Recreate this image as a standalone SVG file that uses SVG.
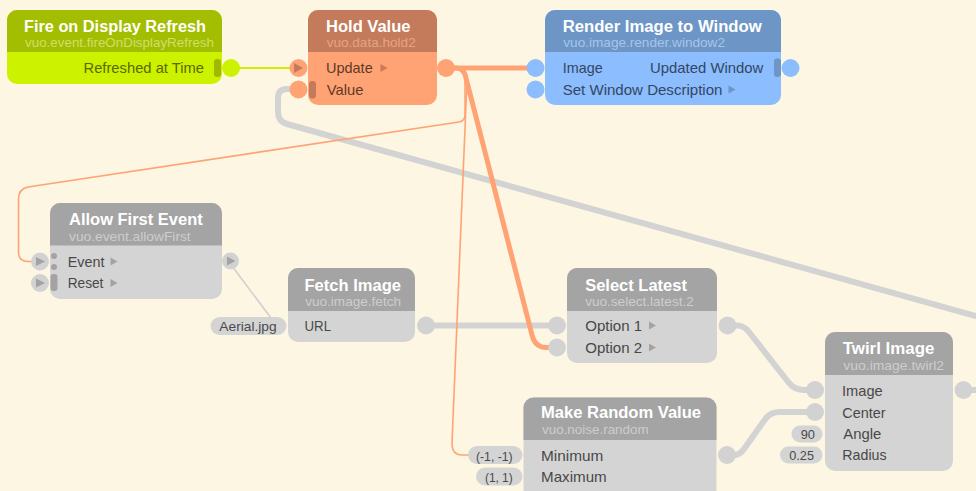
<svg xmlns="http://www.w3.org/2000/svg" width="976" height="491" viewBox="0 0 976 491">
<style>
text{font-family:"Liberation Sans",Arial,sans-serif}
.t{font-weight:bold;font-size:16px;fill:#fff}
.s{font-size:13px}
.l{font-size:15px}
.c{font-size:13.5px;fill:#4a4a4a;text-anchor:middle}
.gh{fill:#a4a4a4}.gb{fill:#d4d4d4}.gp{fill:#d2d2d2}.gs{fill:#cdcdcd}.gl{fill:#484848}.gt{fill:#a3a3a3}
.wg{fill:none;stroke:#d3d3d3;stroke-width:6;stroke-linecap:round;stroke-linejoin:round}
.wo{fill:none;stroke:#ffa374;stroke-width:5}
.wt{fill:none;stroke:#ffa374;stroke-width:1.6}
</style>
<rect width="976" height="491" fill="#fdf6e3"/>
<g id="connectors">
<path class="wg" d="M976,316 L287,124 Q278,121.5 278,112 L278,98 Q278,89 287,89 L298,89"/>
<path class="wg" d="M426,325.5 L557,325.5"/>
<path class="wg" d="M727,325.5 L737,325.5 Q744,325.5 749,332 L789,383 Q795,390 804,390 L815,390"/>
<path class="wg" d="M727,455 L734,455 Q740,455 744,449 L766,418 Q771,412 780,412 L815,412"/>
<path class="wg" d="M963,390 L980,390"/>
<path d="M232,266 L271,318" fill="none" stroke="#d0d0d0" stroke-width="1.6"/>
<path d="M231,68 L298,68" fill="none" stroke="#cdf000" stroke-width="2"/>
<path class="wt" d="M446,68 L455,68 Q465,68 465,78 L465,115 Q465,121 459,122 L28,187 Q18.5,189 18.5,199 L18.5,252 Q18.5,261.5 28,261.5 L40,261.5"/>
<path class="wt" d="M455,68 Q467,68 467,80 L452,443 Q452,455 462,455 L469,455"/>
<path class="wo" d="M446,68 L536,68"/>
<path class="wo" d="M446,68 L456,68 Q464,68 466,78 L532,335 Q535,347.5 546,347.5 L557,347.5"/>
</g>
<g id="fire">
<rect x="7" y="10" width="215" height="74" rx="10" fill="#cdf200"/>
<path d="M7,52 V20 A10,10 0 0 1 17,10 H212 A10,10 0 0 1 222,20 V52 Z" fill="#a3bd00"/>
<rect x="214" y="59" width="7" height="18" rx="3" fill="#9fb900"/>
<circle cx="231" cy="68" r="9" fill="#cdf200"/>
<text class="t" x="24" y="31.5" textLength="182" lengthAdjust="spacingAndGlyphs">Fire on Display Refresh</text>
<text class="s" x="25" y="46.5" fill="#cde06a" textLength="189" lengthAdjust="spacingAndGlyphs">vuo.event.fireOnDisplayRefresh</text>
<text class="l" x="83.5" y="73.3" fill="#5a6800" textLength="120.5" lengthAdjust="spacingAndGlyphs">Refreshed at Time</text>
</g>
<g id="hold">
<rect x="308" y="10" width="129" height="95" rx="10" fill="#ffa374"/>
<path d="M308,52 V20 A10,10 0 0 1 318,10 H427 A10,10 0 0 1 437,20 V52 Z" fill="#c47b5b"/>
<circle cx="298.5" cy="68" r="9" fill="#ffa374"/>
<polygon points="294,63 303,68 294,73" fill="#c47b5b"/>
<circle cx="298.5" cy="89.5" r="9" fill="#ffa374"/>
<rect x="309" y="81" width="7" height="17.5" rx="3" fill="#c47b5b"/>
<circle cx="446" cy="68" r="9" fill="#ffa374"/>
<text class="t" x="326" y="31.5" textLength="84.5" lengthAdjust="spacingAndGlyphs">Hold Value</text>
<text class="s" x="326.7" y="46.5" fill="#e4a384" textLength="89" lengthAdjust="spacingAndGlyphs">vuo.data.hold2</text>
<text class="l" x="326" y="73.3" fill="#5e3a28" textLength="46.7" lengthAdjust="spacingAndGlyphs">Update</text>
<polygon points="380.5,64 387.5,68 380.5,72" fill="#c97b5a"/>
<text class="l" x="326.7" y="95" fill="#5e3a28" textLength="36.7" lengthAdjust="spacingAndGlyphs">Value</text>
</g>
<g id="render">
<rect x="545" y="10" width="236" height="95" rx="10" fill="#8bbdff"/>
<path d="M545,52 V20 A10,10 0 0 1 555,10 H771 A10,10 0 0 1 781,20 V52 Z" fill="#6d96c6"/>
<circle cx="535.5" cy="68" r="9" fill="#8bbdff"/>
<circle cx="535.5" cy="89.5" r="9" fill="#8bbdff"/>
<rect x="774" y="58.5" width="7" height="18.5" rx="3" fill="#6d96c6"/>
<circle cx="790.5" cy="68" r="9" fill="#8bbdff"/>
<text class="t" x="562.7" y="31.5" textLength="199" lengthAdjust="spacingAndGlyphs">Render Image to Window</text>
<text class="s" x="563.3" y="46.5" fill="#a7c4ea" textLength="161.7" lengthAdjust="spacingAndGlyphs">vuo.image.render.window2</text>
<text class="l" x="562.7" y="73.3" fill="#34475f" textLength="40" lengthAdjust="spacingAndGlyphs">Image</text>
<text class="l" x="650" y="73.3" fill="#34475f" textLength="113.3" lengthAdjust="spacingAndGlyphs">Updated Window</text>
<text class="l" x="562.7" y="95" fill="#34475f" textLength="159.7" lengthAdjust="spacingAndGlyphs">Set Window Description</text>
<polygon points="728.5,85.5 735.5,89.5 728.5,93.5" fill="#6d96c6"/>
</g>
<g id="allowFirst">
<rect x="50" y="203" width="172" height="96" rx="10" class="gb"/>
<path d="M50,245.5 V213 A10,10 0 0 1 60,203 H212 A10,10 0 0 1 222,213 V245.5 Z" class="gh"/>
<circle cx="40" cy="261.5" r="9" class="gp"/>
<polygon points="36,257 45,261.5 36,266" class="gt"/>
<circle cx="40" cy="283" r="9" class="gp"/>
<polygon points="36,278.5 45,283 36,287.5" class="gt"/>
<circle cx="54" cy="256" r="3" class="gt"/>
<circle cx="54" cy="267" r="3" class="gt"/>
<rect x="50.5" y="274" width="7" height="17" rx="3" class="gt"/>
<circle cx="230.5" cy="261" r="8.5" class="gp"/>
<polygon points="227,256.5 235.5,261 227,265.5" class="gt"/>
<text class="t" x="69" y="225" textLength="133.7" lengthAdjust="spacingAndGlyphs">Allow First Event</text>
<text class="s gs" x="69" y="240.7" textLength="121.7" lengthAdjust="spacingAndGlyphs">vuo.event.allowFirst</text>
<text class="l gl" x="67.7" y="266.7" textLength="36.7" lengthAdjust="spacingAndGlyphs">Event</text>
<polygon points="110.5,257.5 117.5,261.5 110.5,265.5" class="gt"/>
<text class="l gl" x="67.7" y="288.3" textLength="35.7" lengthAdjust="spacingAndGlyphs">Reset</text>
<polygon points="110.5,279 117.5,283 110.5,287" class="gt"/>
</g>
<g id="aerial">
<rect x="210.5" y="317" width="76" height="18" rx="9" class="gb"/>
<text class="c" x="248" y="331.3" textLength="57.3" lengthAdjust="spacingAndGlyphs">Aerial.jpg</text>
</g>
<g id="fetch">
<rect x="288" y="268" width="127" height="74" rx="10" class="gb"/>
<path d="M288,311 V278 A10,10 0 0 1 298,268 H405 A10,10 0 0 1 415,278 V311 Z" class="gh"/>
<circle cx="426" cy="325.5" r="9" class="gp"/>
<text class="t" x="304.5" y="290.7" textLength="96.5" lengthAdjust="spacingAndGlyphs">Fetch Image</text>
<text class="s gs" x="305.2" y="305.7" textLength="95.8" lengthAdjust="spacingAndGlyphs">vuo.image.fetch</text>
<text class="l gl" x="304.5" y="331" textLength="26.5" lengthAdjust="spacingAndGlyphs">URL</text>
</g>
<g id="selectLatest">
<rect x="567" y="268" width="150" height="95" rx="10" class="gb"/>
<path d="M567,311 V278 A10,10 0 0 1 577,268 H707 A10,10 0 0 1 717,278 V311 Z" class="gh"/>
<circle cx="557" cy="325.5" r="9" class="gp"/>
<circle cx="557" cy="347.5" r="9" class="gp"/>
<circle cx="727.5" cy="325.5" r="9" class="gp"/>
<text class="t" x="585.2" y="290.7" textLength="101.7" lengthAdjust="spacingAndGlyphs">Select Latest</text>
<text class="s gs" x="585.2" y="305.7" textLength="108.6" lengthAdjust="spacingAndGlyphs">vuo.select.latest.2</text>
<text class="l gl" x="585.2" y="331" textLength="56.9" lengthAdjust="spacingAndGlyphs">Option 1</text>
<polygon points="649,321.5 656,325.5 649,329.5" class="gt"/>
<text class="l gl" x="585.2" y="352.5" textLength="56.9" lengthAdjust="spacingAndGlyphs">Option 2</text>
<polygon points="649,343.5 656,347.5 649,351.5" class="gt"/>
</g>
<g id="random">
<rect x="523.5" y="397.5" width="193" height="110" rx="10" class="gb"/>
<path d="M523.5,440 V407.5 A10,10 0 0 1 533.5,397.5 H706.5 A10,10 0 0 1 716.5,407.5 V440 Z" class="gh"/>
<circle cx="727" cy="455" r="9" class="gp"/>
<text class="t" x="541" y="418.3" textLength="160" lengthAdjust="spacingAndGlyphs">Make Random Value</text>
<text class="s gs" x="542" y="434" textLength="106.7" lengthAdjust="spacingAndGlyphs">vuo.noise.random</text>
<text class="l gl" x="541" y="461" textLength="62.3" lengthAdjust="spacingAndGlyphs">Minimum</text>
<text class="l gl" x="541" y="481.7" textLength="65.7" lengthAdjust="spacingAndGlyphs">Maximum</text>
</g>
<g id="minConst">
<rect x="468" y="446" width="54.5" height="18" rx="9" class="gb"/>
<text class="c" x="494.3" y="460.5" textLength="36.7" lengthAdjust="spacingAndGlyphs">(-1, -1)</text>
</g>
<g id="maxConst">
<rect x="476" y="467.5" width="46.5" height="18" rx="9" class="gb"/>
<text class="c" x="498.8" y="481.7" textLength="27.7" lengthAdjust="spacingAndGlyphs">(1, 1)</text>
</g>
<g id="twirl">
<rect x="825" y="332" width="128" height="139" rx="10" class="gb"/>
<path d="M825,375 V342 A10,10 0 0 1 835,332 H943 A10,10 0 0 1 953,342 V375 Z" class="gh"/>
<circle cx="815" cy="390" r="9" class="gp"/>
<circle cx="815" cy="412" r="9" class="gp"/>
<circle cx="963.5" cy="390" r="9" class="gp"/>
<text class="t" x="842.7" y="354.3" textLength="91.7" lengthAdjust="spacingAndGlyphs">Twirl Image</text>
<text class="s gs" x="843.3" y="370" textLength="100.7" lengthAdjust="spacingAndGlyphs">vuo.image.twirl2</text>
<text class="l gl" x="842" y="395.5" textLength="40.7" lengthAdjust="spacingAndGlyphs">Image</text>
<text class="l gl" x="842.3" y="417.5" textLength="43.3" lengthAdjust="spacingAndGlyphs">Center</text>
<text class="l gl" x="843.3" y="439" textLength="38" lengthAdjust="spacingAndGlyphs">Angle</text>
<text class="l gl" x="842.3" y="460" textLength="44.3" lengthAdjust="spacingAndGlyphs">Radius</text>
</g>
<g id="angleConst">
<rect x="791.5" y="425.5" width="31" height="17" rx="8.5" class="gb"/>
<text class="c" x="807.8" y="439" textLength="14.3" lengthAdjust="spacingAndGlyphs">90</text>
</g>
<g id="radiusConst">
<rect x="780" y="446.5" width="42.5" height="17" rx="8.5" class="gb"/>
<text class="c" x="801.6" y="460" textLength="24.7" lengthAdjust="spacingAndGlyphs">0.25</text>
</g>
</svg>
